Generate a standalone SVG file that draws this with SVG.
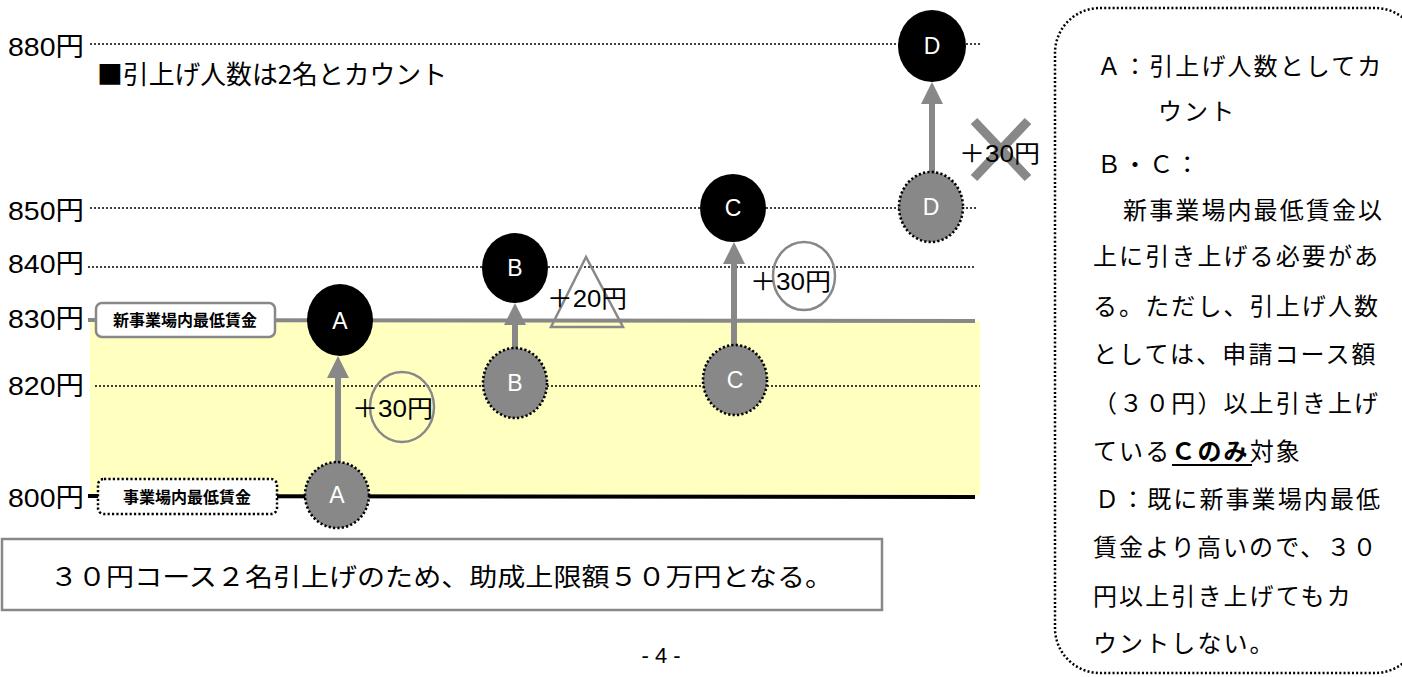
<svg xmlns="http://www.w3.org/2000/svg" width="1402" height="677" viewBox="0 0 1402 677">
<style>
.axis{font-family:"Liberation Sans","Noto Sans CJK JP",sans-serif;font-size:26px;fill:#000}
.dot{stroke:#000;stroke-width:1.6;stroke-dasharray:2 2;fill:none}
.new{fill:#000}
.old{fill:#888;stroke:#000;stroke-width:2.6;stroke-dasharray:2.2 2.2}
.nl{font-family:"Liberation Sans",sans-serif;font-size:23px;fill:#fff;text-anchor:middle}
.inc{font-family:"Liberation Sans","Noto Sans CJK JP",sans-serif;font-size:24px;fill:#000}
.mark{fill:none;stroke:#888;stroke-width:2.5}
.arrow{stroke:#888;stroke-width:6;fill:none;marker-end:url(#ah)}
.lbl{font-family:"Noto Sans CJK JP",sans-serif;font-size:16px;font-weight:bold;fill:#000;text-anchor:middle}
.leg{font-family:"Noto Sans CJK JP",sans-serif;font-size:24px;fill:#000;letter-spacing:2.1px}
</style>
<defs>
<marker id="ah" viewBox="0 0 22 22" refX="10" refY="11" markerWidth="22" markerHeight="22" markerUnits="userSpaceOnUse" orient="auto">
<path d="M0,0 L22,11 L0,22 z" fill="#888"/>
</marker>
</defs>
<rect width="1402" height="677" fill="#fff"/>

<g id="band">
<rect x="90" y="321" width="890" height="174" fill="#ffffc0"/>
</g>

<g id="levels">
<line class="dot" x1="90" y1="44" x2="980" y2="44"/>
<line class="dot" x1="90" y1="208" x2="978" y2="208"/>
<line class="dot" x1="88" y1="267" x2="975" y2="267"/>
<line class="dot" x1="95" y1="386" x2="980" y2="386"/>
<line x1="88" y1="320" x2="975" y2="321" stroke="#888" stroke-width="4"/>
<line x1="88" y1="496" x2="975" y2="497" stroke="#000" stroke-width="4"/>
<text class="axis" x="8" y="56" textLength="76" lengthAdjust="spacingAndGlyphs">880円</text>
<text class="axis" x="8" y="220" textLength="76" lengthAdjust="spacingAndGlyphs">850円</text>
<text class="axis" x="8" y="273" textLength="76" lengthAdjust="spacingAndGlyphs">840円</text>
<text class="axis" x="8" y="328" textLength="76" lengthAdjust="spacingAndGlyphs">830円</text>
<text class="axis" x="8" y="395" textLength="76" lengthAdjust="spacingAndGlyphs">820円</text>
<text class="axis" x="8" y="507" textLength="76" lengthAdjust="spacingAndGlyphs">800円</text>
</g>

<text x="97" y="84" font-family="'Noto Sans CJK JP',sans-serif" font-size="26" textLength="350" lengthAdjust="spacingAndGlyphs">■引上げ人数は2名とカウント</text>

<g id="label-new">
<rect x="96" y="303" width="179" height="34" rx="6" fill="#fff" stroke="#888" stroke-width="2.5"/>
<text class="lbl" x="185" y="326">新事業場内最低賃金</text>
</g>
<g id="label-old">
<rect x="98" y="479" width="179" height="35" rx="6" fill="#fff" stroke="#000" stroke-width="2.5" stroke-dasharray="2.2 2.2"/>
<text class="lbl" x="187" y="503">事業場内最低賃金</text>
</g>

<g id="connectors">
<line class="arrow" x1="338" y1="463" x2="338" y2="368"/>
<line class="arrow" x1="515" y1="349" x2="515" y2="315"/>
<line class="arrow" x1="734" y1="346" x2="734" y2="254"/>
<line class="arrow" x1="932" y1="173" x2="932" y2="94"/>
</g>

<g id="node-A-old"><ellipse class="old" cx="337" cy="495" rx="32" ry="33"/><text class="nl" x="337" y="503">A</text></g>
<g id="node-A-new"><ellipse class="new" cx="340" cy="320" rx="33" ry="36"/><text class="nl" x="340" y="329">A</text></g>
<g id="node-B-old"><ellipse class="old" cx="515" cy="383" rx="32" ry="35"/><text class="nl" x="515" y="391">B</text></g>
<g id="node-B-new"><ellipse class="new" cx="515" cy="268" rx="33" ry="35"/><text class="nl" x="515" y="276">B</text></g>
<g id="node-C-old"><ellipse class="old" cx="735" cy="380" rx="32" ry="35"/><text class="nl" x="735" y="388">C</text></g>
<g id="node-C-new"><ellipse class="new" cx="733" cy="208" rx="33" ry="34"/><text class="nl" x="733" y="216">C</text></g>
<g id="node-D-old"><ellipse class="old" cx="931" cy="207" rx="32" ry="35"/><text class="nl" x="931" y="215">D</text></g>
<g id="node-D-new"><ellipse class="new" cx="932" cy="46" rx="34" ry="36"/><text class="nl" x="932" y="54">D</text></g>

<g id="inc-A">
<ellipse class="mark" cx="402" cy="407" rx="32" ry="35"/>
<text class="inc" x="352" y="417" textLength="81" lengthAdjust="spacingAndGlyphs">＋30円</text>
</g>
<g id="inc-B">
<polygon class="mark" points="586,257 551,327 623,327"/>
<text class="inc" x="547" y="307" textLength="80" lengthAdjust="spacingAndGlyphs">＋20円</text>
</g>
<g id="inc-C">
<ellipse class="mark" cx="804" cy="276" rx="31" ry="34"/>
<text class="inc" x="750" y="290" textLength="81" lengthAdjust="spacingAndGlyphs">＋30円</text>
</g>
<g id="inc-D">
<line x1="974" y1="121" x2="1028" y2="178" stroke="#888" stroke-width="9"/>
<line x1="1028" y1="121" x2="974" y2="178" stroke="#888" stroke-width="9"/>
<text class="inc" x="959" y="162" textLength="81" lengthAdjust="spacingAndGlyphs">＋30円</text>
</g>

<g id="summary">
<rect x="2" y="539" width="880" height="71" fill="#fff" stroke="#888" stroke-width="2.5"/>
<text x="50" y="586" font-family="'Noto Sans CJK JP',sans-serif" font-size="25" textLength="783" lengthAdjust="spacingAndGlyphs">３０円コース２名引上げのため、助成上限額５０万円となる。</text>
</g>

<text x="661" y="663" font-family="'Liberation Sans','Noto Sans CJK JP',sans-serif" font-size="22" text-anchor="middle">- 4 -</text>

<g id="legend">
<rect x="1055" y="8" width="365" height="665" rx="45" fill="#fff" stroke="#000" stroke-width="2.5" stroke-dasharray="2 2.2"/>
<text class="leg" x="1097" y="75">Ａ：引上げ人数としてカ</text>
<text class="leg" x="1158" y="120">ウント</text>
<text class="leg" x="1097" y="173">Ｂ・Ｃ：</text>
<text class="leg" x="1097" y="219">　新事業場内最低賃金以</text>
<text class="leg" x="1093" y="265">上に引き上げる必要があ</text>
<text class="leg" x="1093" y="315">る。ただし、引上げ人数</text>
<text class="leg" x="1093" y="363">としては、申請コース額</text>
<text class="leg" x="1093" y="412">（３０円）以上引き上げ</text>
<text class="leg" x="1093" y="460">ている<tspan font-weight="bold">Ｃのみ</tspan>対象</text>
<line x1="1172" y1="465" x2="1252" y2="465" stroke="#000" stroke-width="2"/>
<text class="leg" x="1095" y="508">Ｄ：既に新事業場内最低</text>
<text class="leg" x="1093" y="556">賃金より高いので、３０</text>
<text class="leg" x="1093" y="605">円以上引き上げてもカ</text>
<text class="leg" x="1093" y="652">ウントしない。</text>
</g>
</svg>
